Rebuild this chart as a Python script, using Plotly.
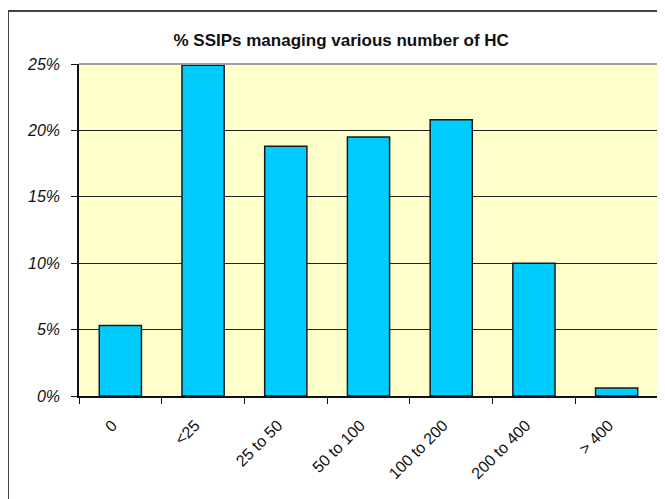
import plotly.graph_objects as go

categories = ["0", "<25", "25 to 50", "50 to 100", "100 to 200", "200 to 400", "> 400"]
shares = [5.3, 24.9, 18.8, 19.5, 20.8, 10.0, 0.6]
y_ticks = [0, 5, 10, 15, 20, 25]
y_tick_text = ["<i>%d%%</i>" % v for v in y_ticks]

fig = go.Figure()
fig.add_trace(
    go.Bar(
        x=categories,
        y=shares,
        marker={"color": "#00CCFF", "line": {"color": "#1a1a1a", "width": 1.5}},
        width=0.51,
    )
)

# outer chart frame plus grey top/right plot border
frame = dict(type="rect", xref="paper", yref="paper",
             x0=-0.1226, x1=1.2, y0=-0.5, y1=1.1596,
             line={"color": "#444444", "width": 2}, layer="below")
top_edge = dict(type="line", xref="paper", yref="paper", x0=0, x1=1, y0=1, y1=1,
                line={"color": "#a0a0a0", "width": 2}, layer="above")
right_edge = dict(type="line", xref="paper", yref="paper", x0=1, x1=1, y0=0, y1=1,
                  line={"color": "#a0a0a0", "width": 2}, layer="above")

fig.update_layout(
    width=665,
    height=499,
    margin=dict(l=71, r=15, t=56, b=111),
    paper_bgcolor="white",
    plot_bgcolor="#FFFFCC",
    showlegend=False,
    font={"family": "Liberation Sans, Arial, sans-serif", "color": "#111111"},
    title={
        "text": "<b>% SSIPs managing various number of HC</b>",
        "x": 0.501,
        "xanchor": "center",
        "y": 0.936,
        "yanchor": "middle",
        "font": {"size": 17, "color": "#111111"},
    },
    xaxis={
        "type": "category",
        "tickangle": -45,
        "tickson": "boundaries",
        "ticks": "outside",
        "ticklen": 6,
        "tickcolor": "#111111",
        "showline": True,
        "linecolor": "#111111",
        "linewidth": 1.5,
        "showgrid": False,
        "tickfont": {"size": 16},
        "ticklabelstandoff": 12,
        "ticklabelshift": -8,
        "range": [-0.5, 6.5],
    },
    yaxis={
        "range": [0, 25],
        "tickvals": y_ticks,
        "ticktext": y_tick_text,
        "ticks": "outside",
        "ticklen": 6,
        "tickcolor": "#111111",
        "showline": True,
        "linecolor": "#111111",
        "linewidth": 1.5,
        "showgrid": True,
        "gridcolor": "#222222",
        "gridwidth": 1,
        "zeroline": False,
        "tickfont": {"size": 16},
        "ticklabelstandoff": 8,
    },
    shapes=[frame, top_edge, right_edge],
)

fig.write_html("out.html")
